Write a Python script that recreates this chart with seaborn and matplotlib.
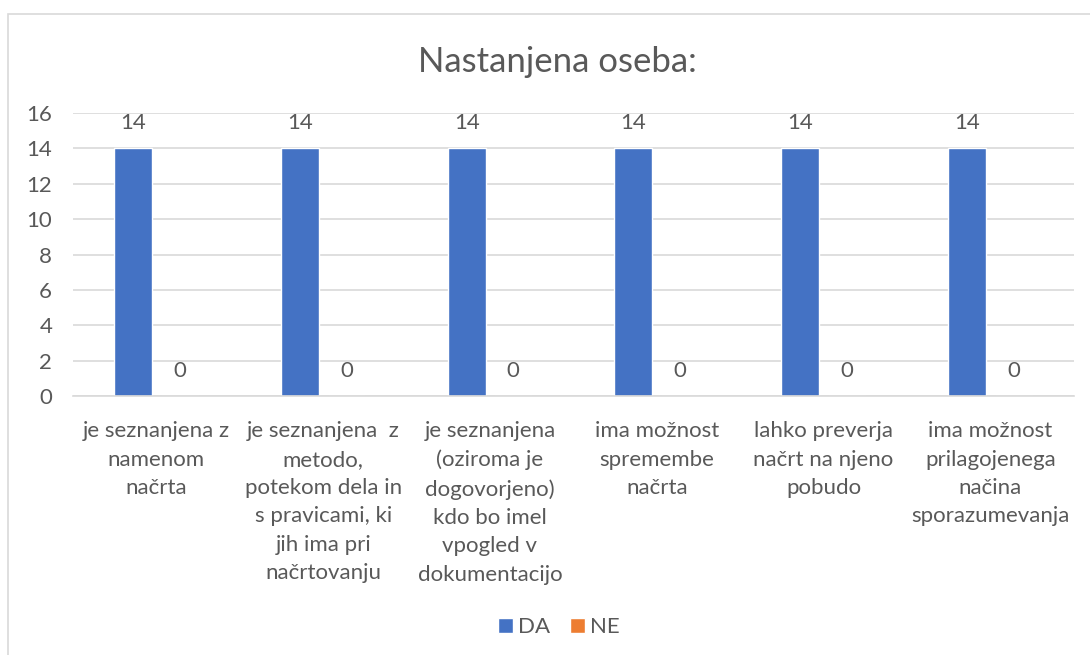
import pandas as pd
import matplotlib.pyplot as plt
import seaborn as sns
from matplotlib.patches import Rectangle

# data
categories = [
    "je seznanjena z\nnamenom\nnačrta",
    "je seznanjena  z\nmetodo,\npotekom dela in\ns pravicami, ki\njih ima pri\nnačrtovanju",
    "je seznanjena\n(oziroma je\ndogovorjeno)\nkdo bo imel\nvpogled v\ndokumentacijo",
    "ima možnost\nspremembe\nnačrta",
    "lahko preverja\nnačrt na njeno\npobudo",
    "ima možnost\nprilagojenega\nnačina\nsporazumevanja",
]
da_values = [14, 14, 14, 14, 14, 14]
ne_values = [0, 0, 0, 0, 0, 0]
series = ["DA", "NE"]
colors = ["#4472C4", "#ED7D31"]

df = pd.DataFrame({
    "kategorija": categories * 2,
    "odgovor": ["DA"] * len(categories) + ["NE"] * len(categories),
    "vrednost": da_values + ne_values,
})

sns.set_style("white")
plt.rcParams['font.family'] = ['Lato', 'DejaVu Sans']
text_color = "#595959"
fs = 16

fig = plt.figure(figsize=(10.9, 6.55), dpi=100)
ax = fig.add_axes([0.067, 0.395, 0.918, 0.4325])

sns.barplot(data=df, x="kategorija", y="vrednost", hue="odgovor",
            palette=colors, hue_order=series, width=0.56, gap=0.19,
            saturation=1, ax=ax, legend=True)

for cont in ax.containers:
    ax.bar_label(cont, padding=11, fontsize=fs, color=text_color)

ax.set_ylim(0, 16)
ax.set_yticks(range(0, 17, 2))
ax.set_xlim(-0.5, len(categories) - 0.5)
ax.yaxis.grid(True, color="#d9d9d9", linewidth=1.2)
ax.set_axisbelow(True)
for s in ["top", "right", "left"]:
    ax.spines[s].set_visible(False)
ax.spines["bottom"].set_color("#d9d9d9")
ax.spines["bottom"].set_linewidth(1.2)
ax.tick_params(axis="y", length=0, labelsize=fs, colors=text_color, pad=15)
ax.tick_params(axis="x", length=0, labelsize=fs, colors=text_color, pad=18)
for lbl in ax.get_xticklabels():
    lbl.set_linespacing(1.52)
    lbl.set_verticalalignment("top")
ax.set_xlabel("")
ax.set_ylabel("")

ax.legend(loc="center", bbox_to_anchor=(0.513, 0.042), bbox_transform=fig.transFigure,
          ncol=2, frameon=False, fontsize=fs, labelcolor=text_color,
          handlelength=0.65, handleheight=0.65, handletextpad=0.25, columnspacing=0.9)

fig.text(0.511, 0.905, "Nastanjena oseba:", ha="center", va="center",
         fontsize=25, color=text_color)

fig.patches.append(Rectangle((0.0075, -0.01), 1.0, 0.989, transform=fig.transFigure,
                             fill=False, edgecolor="#d9d9d9", linewidth=1.2))

plt.savefig("out.png", dpi=100)
